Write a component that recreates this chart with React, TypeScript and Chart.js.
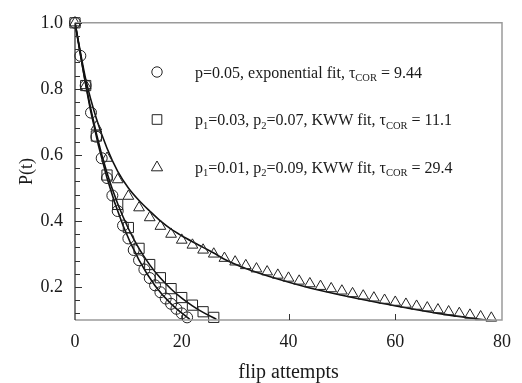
import { useEffect, useRef } from 'react';
import { Chart, registerables } from 'chart.js';

Chart.register(...registerables);

// ---- data ----
const circleT = [0, 1, 2, 3, 4, 5, 6, 7, 8, 9, 10, 11, 12, 13, 14, 15, 16, 17, 18, 19, 20, 21];
const circleP = [1.0, 0.9, 0.81, 0.728, 0.655, 0.59, 0.53, 0.477, 0.43, 0.386, 0.347, 0.312, 0.281, 0.253, 0.227, 0.205, 0.184, 0.165, 0.149, 0.134, 0.12, 0.108];

const squareT = [0, 2, 4, 6, 8, 10, 12, 14, 16, 18, 20, 22, 24, 26];
const squareP = [1.0, 0.81, 0.657, 0.539, 0.45, 0.38, 0.317, 0.268, 0.228, 0.195, 0.168, 0.145, 0.125, 0.108];

const triangleT = [0, 2, 4, 6, 8, 10, 12, 14, 16, 18, 20, 22, 24, 26, 28, 30, 32, 34, 36, 38, 40, 42, 44, 46, 48, 50, 52, 54, 56, 58, 60, 62, 64, 66, 68, 70, 72, 74, 76, 78];
const triangleP = [1.0, 0.81, 0.685, 0.59, 0.525, 0.475, 0.44, 0.41, 0.384, 0.36, 0.342, 0.327, 0.312, 0.3, 0.287, 0.276, 0.265, 0.255, 0.246, 0.236, 0.227, 0.218, 0.21, 0.202, 0.195, 0.188, 0.18, 0.173, 0.167, 0.16, 0.154, 0.148, 0.142, 0.137, 0.131, 0.125, 0.12, 0.115, 0.11, 0.106];

const expFitT = [0, 3, 6, 9, 12, 15, 18, 21.5];
const expFitP = [1.0, 0.728, 0.53, 0.386, 0.281, 0.204, 0.149, 0.102];

const kwwFit1T = [0, 2, 4, 6, 8, 10, 12, 14, 16, 18, 20, 22, 24, 26.5];
const kwwFit1P = [1.0, 0.815, 0.665, 0.545, 0.452, 0.377, 0.316, 0.267, 0.227, 0.194, 0.166, 0.143, 0.123, 0.102];

const kwwFit2T = [0, 2, 4, 6, 8, 10, 12, 14, 16, 18, 20, 22, 24, 26, 28, 32, 38, 44, 50, 56, 62, 68, 74, 78];
const kwwFit2P = [1.0, 0.83, 0.71, 0.62, 0.55, 0.5, 0.462, 0.43, 0.4, 0.375, 0.355, 0.337, 0.32, 0.303, 0.284, 0.256, 0.224, 0.197, 0.175, 0.155, 0.137, 0.12, 0.106, 0.098];

const xTickValues = [0, 20, 40, 60, 80];
const xInnerTickValues = [20, 40, 60];
const yTickValues = [0.2, 0.4, 0.6, 0.8, 1.0];
const yMinorTickValues = [0.12, 0.16, 0.24, 0.28, 0.32, 0.36, 0.44, 0.48, 0.52, 0.56, 0.64, 0.68, 0.72, 0.76, 0.84, 0.88, 0.92, 0.96];

type Part = [string, boolean];
const legendStyles = ['circle', 'rect', 'triangle'];
const legendParts: Part[][] = [
  [['p=0.05, exponential fit, τ', false], ['COR', true], [' = 9.44', false]],
  [['p', false], ['1', true], ['=0.03, p', false], ['2', true], ['=0.07, KWW fit, τ', false], ['COR', true], [' = 11.1', false]],
  [['p', false], ['1', true], ['=0.01, p', false], ['2', true], ['=0.09, KWW fit, τ', false], ['COR', true], [' = 29.4', false]],
];

const SERIF = "'Liberation Serif', 'Times New Roman', serif";
const INK = '#1a1a1a';

function pts(t: number[], p: number[]) {
  return t.map((x, i) => ({ x, y: p[i] }));
}

function drawMarker(ctx: CanvasRenderingContext2D, style: string, x: number, y: number) {
  ctx.beginPath();
  if (style === 'circle') {
    ctx.arc(x, y, 5.2, 0, Math.PI * 2);
  } else if (style === 'rect') {
    ctx.rect(x - 4.8, y - 4.8, 9.6, 9.6);
  } else {
    ctx.moveTo(x, y - 6);
    ctx.lineTo(x + 5.6, y + 3.8);
    ctx.lineTo(x - 5.6, y + 3.8);
    ctx.closePath();
  }
  ctx.stroke();
}

const decorPlugin = {
  id: 'decor',
  afterDraw(chart: any) {
    const { ctx, chartArea: a, scales } = chart;
    const xs = scales.x;
    const ys = scales.y;
    ctx.save();
    // frame top/right/bottom
    ctx.strokeStyle = '#9a9a9a';
    ctx.lineWidth = 1.5;
    ctx.beginPath();
    ctx.moveTo(a.left, a.top);
    ctx.lineTo(a.right, a.top);
    ctx.lineTo(a.right, a.bottom);
    ctx.lineTo(a.left, a.bottom);
    ctx.stroke();
    // left axis
    ctx.strokeStyle = '#222';
    ctx.lineWidth = 1.2;
    ctx.beginPath();
    ctx.moveTo(a.left, a.top);
    ctx.lineTo(a.left, a.bottom);
    ctx.stroke();
    // inward ticks
    ctx.lineWidth = 1;
    ctx.strokeStyle = '#333';
    ctx.beginPath();
    yTickValues.forEach((v) => {
      const y = Math.round(ys.getPixelForValue(v)) + 0.5;
      ctx.moveTo(a.left, y);
      ctx.lineTo(a.left + 7, y);
    });
    yMinorTickValues.forEach((v) => {
      const y = Math.round(ys.getPixelForValue(v)) + 0.5;
      ctx.moveTo(a.left, y);
      ctx.lineTo(a.left + 5, y);
    });
    xInnerTickValues.forEach((v) => {
      const x = Math.round(xs.getPixelForValue(v)) + 0.5;
      ctx.moveTo(x, a.bottom);
      ctx.lineTo(x, a.bottom - 6);
    });
    ctx.stroke();

    // legend
    const mx = 157;
    const y0 = 72;
    const gap = 47.5;
    const tx = 195;
    ctx.strokeStyle = '#222';
    ctx.lineWidth = 1;
    ctx.fillStyle = INK;
    ctx.textBaseline = 'alphabetic';
    ctx.textAlign = 'left';
    legendParts.forEach((parts, i) => {
      const cy = y0 + gap * i;
      drawMarker(ctx, legendStyles[i], mx, cy);
      let x = tx;
      const base = cy + 5.8;
      parts.forEach(([s, sub]) => {
        ctx.font = sub ? `10.5px ${SERIF}` : `16px ${SERIF}`;
        ctx.fillText(s, x, sub ? base + 3.5 : base);
        x += ctx.measureText(s).width;
      });
    });
    ctx.restore();
  },
};

export default function App() {
  const ref = useRef<HTMLCanvasElement | null>(null);
  useEffect(() => {
    const canvas = ref.current;
    if (!canvas) return;
    const markerBase = {
      showLine: false,
      pointBackgroundColor: 'rgba(0,0,0,0)',
      pointBorderColor: '#222',
      pointBorderWidth: 1,
      clip: false as any,
    };
    const lineBase = {
      showLine: true,
      pointRadius: 0,
      borderColor: '#111',
      borderWidth: 1.6,
      cubicInterpolationMode: 'monotone' as const,
      fill: false,
    };
    const chart = new Chart(canvas, {
      type: 'scatter',
      data: {
        datasets: [
          { ...markerBase, data: pts(circleT, circleP), pointStyle: 'circle', pointRadius: 5.5 },
          { ...markerBase, data: pts(squareT, squareP), pointStyle: 'rect', pointRadius: 7.2 },
          { ...markerBase, data: pts(triangleT, triangleP), pointStyle: 'triangle', pointRadius: 6.2 },
          { ...lineBase, data: pts(expFitT, expFitP) },
          { ...lineBase, data: pts(kwwFit1T, kwwFit1P) },
          { ...lineBase, data: pts(kwwFit2T, kwwFit2P) },
        ] as any,
      },
      options: {
        animation: false,
        responsive: false,
        maintainAspectRatio: false,
        layout: { padding: { top: 16, right: 11, left: 0, bottom: 0 } },
        plugins: { legend: { display: false }, tooltip: { enabled: false } },
        events: [],
        scales: {
          x: {
            type: 'linear',
            min: 0,
            max: 80,
            afterBuildTicks: (s: any) => {
              s.ticks = xTickValues.map((v) => ({ value: v }));
            },
            afterFit: (s: any) => {
              s.height = 63;
            },
            grid: { display: false, drawTicks: false },
            border: { display: false },
            ticks: {
              padding: 11,
              color: INK,
              font: { family: SERIF, size: 18 },
              maxRotation: 0,
              callback: (v: any) => String(v),
            },
            title: {
              display: true,
              text: 'flip attempts',
              color: INK,
              font: { family: SERIF, size: 20, lineHeight: 1.0 },
              padding: { top: 0, bottom: 0 },
            },
          },
          y: {
            type: 'linear',
            min: 0.1,
            max: 1.0,
            afterBuildTicks: (s: any) => {
              s.ticks = yTickValues.map((v) => ({ value: v }));
            },
            afterFit: (s: any) => {
              s.width = 75;
            },
            grid: { display: false, drawTicks: false },
            border: { display: false },
            ticks: {
              padding: 12,
              color: INK,
              font: { family: SERIF, size: 18 },
              callback: (v: any) => Number(v).toFixed(1),
            },
            title: {
              display: true,
              text: 'P(t)',
              color: INK,
              font: { family: SERIF, size: 18 },
              padding: { top: 16, bottom: 0 },
            },
          },
        },
      } as any,
      plugins: [decorPlugin],
    });
    return () => chart.destroy();
  }, []);
  return (
    <div style={{ position: 'fixed', left: 0, top: 0, width: 522, height: 383, background: '#fff' }}>
      <canvas ref={ref} width={522} height={383} style={{ display: 'block' }} />
    </div>
  );
}
